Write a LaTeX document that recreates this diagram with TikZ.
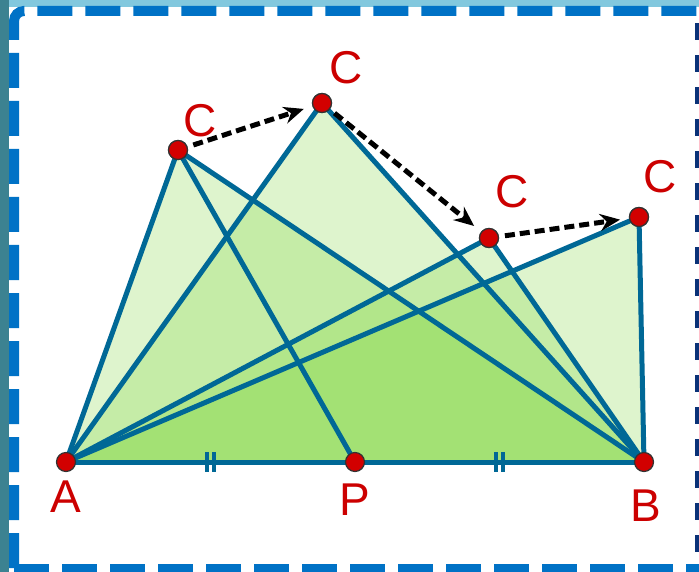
\documentclass[tikz,border=0pt]{standalone}
\usepackage{fontspec}
\setmainfont{Liberation Sans}
\usetikzlibrary{arrows.meta}
\definecolor{segblue}{RGB}{0,104,150}
\definecolor{trifill}{RGB}{118,213,47}
\definecolor{ptred}{RGB}{210,0,0}
\definecolor{lblred}{RGB}{204,0,0}
\definecolor{frameblue}{RGB}{0,114,198}
\definecolor{darkdash}{RGB}{10,50,120}
\definecolor{tealdark}{RGB}{60,130,145}
\definecolor{teallight}{RGB}{130,200,222}
\tikzset{
  seg/.style={draw=segblue, line width=5pt, line cap=round, line join=round},
  tri/.style={fill=trifill, fill opacity=0.24},
  pt/.style={circle, fill=ptred, draw=black!80, line width=1.2pt, minimum size=19pt, inner sep=0pt},
  lbl/.style={text=lblred, font=\fontsize{46}{50}\selectfont, inner sep=0pt},
  mv/.style={draw=black, line width=5pt, dash pattern=on 10pt off 5pt, -{Stealth[length=20pt,width=17pt]}, shorten <=6pt, shorten >=9pt},
  tick/.style={draw=segblue, line width=4pt}
}
\begin{document}
\begin{tikzpicture}[x=1pt,y=-1pt]
\useasboundingbox (0,0) rectangle (699,572);
\begin{scope}
\clip (0,0) rectangle (699,572);
\fill[white] (0,0) rectangle (699,572);
\fill[teallight] (0,0) rectangle (699,7);
\fill[tealdark] (0,0) rectangle (9,572);
\fill[white, rounded corners=10pt] (14,11) rectangle (730,568);
\draw[frameblue, line width=10pt, dash pattern=on 35pt off 13pt, rounded corners=10pt] (14,568) -- (14,11) -- (730,11);
\draw[frameblue, line width=10pt, dash pattern=on 35pt off 13pt] (14,569) -- (730,569);
\foreach \yy in {23,55,...,560} {
  \fill[darkdash] (695,\yy) rectangle (699,\yy+17);
}
\end{scope}

\coordinate (A) at (66,462);
\coordinate (P) at (355,462);
\coordinate (B) at (644,462);
\coordinate (C1) at (178,150);
\coordinate (C2) at (322,103);
\coordinate (C3) at (489,238);
\coordinate (C4) at (639,217);

\fill[tri] (A) -- (B) -- (C1) -- cycle;
\fill[tri] (A) -- (B) -- (C2) -- cycle;
\fill[tri] (A) -- (B) -- (C3) -- cycle;
\fill[tri] (A) -- (B) -- (C4) -- cycle;

\draw[seg] (C1) -- (P);
\draw[seg] (A) -- (C1) -- (B);
\draw[seg] (A) -- (C2) -- (B);
\draw[seg] (A) -- (C3) -- (B);
\draw[seg] (A) -- (C4) -- (B);
\draw[seg] (A) -- (B);

\draw[tick] (207,452) -- (207,472);
\draw[tick] (214,452) -- (214,472);
\draw[tick] (496,452) -- (496,472);
\draw[tick] (503,452) -- (503,472);

\node[pt] (nC1) at (C1) {};
\node[pt] (nC2) at (C2) {};
\node[pt] (nC3) at (C3) {};
\node[pt] (nC4) at (C4) {};

\draw[mv] (nC1) -- (nC2);
\draw[mv] (nC2) -- (nC3);
\draw[mv] (nC3) -- (nC4);

\node[pt] (nA) at (A) {};
\node[pt] (nP) at (P) {};
\node[pt] (nB) at (B) {};
\node[pt] at (C1) {};
\node[pt] at (C2) {};
\node[pt] at (C3) {};
\node[pt] at (C4) {};

\node[lbl] (lA) at (66,497) {A};
\node[lbl] (lP) at (355,500) {P};
\node[lbl] (lB) at (646,506) {B};
\node[lbl] (lC1) at (200,121) {C};
\node[lbl] (lC2) at (346,68) {C};
\node[lbl] (lC3) at (512,192) {C};
\node[lbl] (lC4) at (660,177) {C};
\end{tikzpicture}
\end{document}
